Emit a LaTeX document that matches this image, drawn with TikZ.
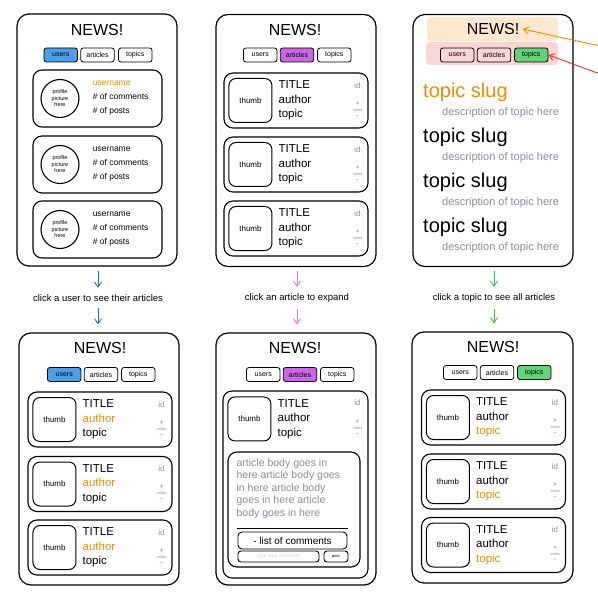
\documentclass[tikz,border=0pt]{standalone}
\usepackage{fontspec}
\setmainfont{Liberation Sans}
\usetikzlibrary{arrows.meta,positioning}
\definecolor{orng}{HTML}{F08C00}
\definecolor{tabblue}{HTML}{4A9FEA}
\definecolor{tabpurple}{HTML}{CC66E8}
\definecolor{tabgreen}{HTML}{62D476}
\definecolor{arblue}{HTML}{1971C2}
\definecolor{arpurple}{HTML}{DA77F2}
\definecolor{argreen}{HTML}{40C057}
\definecolor{vred}{HTML}{E03131}
\definecolor{idgray}{HTML}{868E96}
\definecolor{faint}{HTML}{CED4DA}
\definecolor{hlorange}{HTML}{FDE8CD}
\definecolor{hlpink}{HTML}{F9D5D5}
\newcommand{\fsz}[1]{\fontsize{#1}{#1}\selectfont}
\tikzset{flow/.style={->,line width=0.9pt}}
\begin{document}
\begin{tikzpicture}[x=1pt,y=-1pt,>={Straight Barb[length=5pt,width=7pt]},
  phone/.style={draw,line width=1.2pt,rounded corners=12pt,minimum width=160pt,minimum height=252pt,inner sep=0pt},
  head/.style={font=\fsz{16}},
  tab/.style={draw,line width=0.8pt,rounded corners=2.5pt,minimum width=33.5pt,minimum height=14pt,inner sep=0pt,font=\fsz{7}},
  card/.style={draw,line width=1.1pt,rounded corners=9pt,minimum width=144pt,minimum height=55pt,inner sep=0pt},
  thumb/.style={draw,line width=1pt,rounded corners=7pt,minimum width=43pt,minimum height=44pt,inner sep=0pt,font=\fsz{8}},
  pic/.style={draw,line width=1.1pt,circle,minimum size=38pt,inner sep=0pt,align=center,font=\fontsize{5.5}{6.5}\selectfont},
  info/.style={align=left,inner sep=0pt,font=\fontsize{11.5}{14.5}\selectfont},
  idtxt/.style={inner sep=0pt,text=idgray,font=\fsz{8}},
  votes/.style={inner sep=0pt,align=center,font=\fontsize{4}{6}\selectfont},
  slug/.style={anchor=west,inner sep=0pt,font=\fsz{20}},
  desc/.style={anchor=west,inner sep=0pt,text=idgray,font=\fsz{11}},
  caption/.style={inner xsep=2pt,inner ysep=6.5pt,font=\fsz{9.5}},
  box/.style={draw,line width=0.9pt,inner sep=0pt}]
\useasboundingbox (0,0) rectangle (597,601);

% users list
\node[phone] (p1) at (97,140) {};
\node[head] (n1) at (97,30) {NEWS!};
\node[tab] (a1) at (97.5,55) {articles};
\node[tab,fill=tabblue,left=2.5pt of a1] (u1) {users};
\node[tab,right=3.5pt of a1] (tp1) {topics};
\foreach \i/\y/\c in {1/98.5/orng,2/164.5/black,3/229.5/black}{
  \node[card,minimum width=129pt,minimum height=57pt] (uc\i) at (97.5,\y) {};
  \node[pic,right=8pt of uc\i.west] (pp\i) {profile\\picture\\here};
  \node[info,font=\fontsize{8.5}{14}\selectfont,right=13pt of pp\i] (ui\i) {{\color{\c}username}\\\# of comments\\\# of posts};
}

% articles list
\node[phone] (p2) at (296,140.5) {};
\node[head] (n2) at (295,30) {NEWS!};
\node[tab,fill=tabpurple] (a2) at (297,55) {articles};
\node[tab,left=2.5pt of a2] (u2) {users};
\node[tab,right=3pt of a2] (tp2) {topics};

% topics list
\node[phone] (p3) at (493,140.5) {};
\node[fill=hlorange,rounded corners=4pt,minimum width=131pt,minimum height=24pt] (h1) at (492.5,29) {};
\node[fill=hlpink,rounded corners=4pt,minimum width=132pt,minimum height=23pt] (h2) at (492,53.5) {};
\node[head] (n3) at (493,29) {NEWS!};
\node[tab] (a3) at (494,55) {articles};
\node[tab,left=2.5pt of a3] (u3) {users};
\node[tab,fill=tabgreen,right=3pt of a3] (tp3) {topics};
\foreach \i/\y/\c in {1/92/orng,2/137/black,3/182/black,4/227/black}{
  \node[slug,text=\c] (s\i) at (423,\y) {topic slug};
  \node[desc] (d\i) at (442,\y+21) {description of topic here};
}
\coordinate (oe) at (600,46);
\coordinate (re) at (600,74);
\draw[flow,orng] (oe) -- (n3.east);
\draw[flow,vred] (re) -- (tp3.east);

% captions
\node[caption] (k1) at (98,298) {click a user to see their articles};
\node[caption] (k2) at (297,298) {click an article to expand};
\node[caption] (k3) at (494,298) {click a topic to see all articles};

% user's articles
\node[phone] (p4) at (99,459) {};
\node[head] (n4) at (100,348) {NEWS!};
\node[tab] (a4) at (101,374.5) {articles};
\node[tab,fill=tabblue,left=2.5pt of a4] (u4) {users};
\node[tab,right=3pt of a4] (tp4) {topics};

% expanded article
\node[phone] (p5) at (296,459) {};
\node[head] (n5) at (295,348) {NEWS!};
\node[tab,fill=tabpurple] (a5) at (300,374.5) {articles};
\node[tab,left=2.5pt of a5] (u5) {users};
\node[tab,right=3pt of a5] (tp5) {topics};
\node[card,minimum width=145pt,minimum height=187pt] (c51) at (295.5,484.5) {};
\node[thumb,below right=6pt and 5pt of c51.north west] (th51) {thumb};
\node[info,right=6pt of th51] (in51) {TITLE\\author\\topic};
\node[idtxt] (id51) at ([xshift=-11pt,yshift=-12pt]c51.north east) {id};
\node[votes] (vt51) at ([xshift=-11pt,yshift=-37pt]c51.north east) {{\fsz{6}\color{vred}+}\\{\color{idgray}votes}\\{\fsz{6}\color{argreen}--}};
\node[draw,line width=1.1pt,rounded corners=9pt,minimum width=132pt,minimum height=115pt] (bd5) at (294,509.5) {};
\node[align=left,inner sep=0pt,text=idgray,font=\fontsize{10.5}{12.5}\selectfont,below right=7pt and 9pt of bd5.north west] (tx5) {article body goes in\\here article body goes\\in here article body\\goes in here article\\body goes in here};
\coordinate (dl) at (237,528);
\coordinate (dr) at (348,528);
\draw[line width=1pt] (dl) -- (dr);
\node[box,rounded corners=4pt,minimum width=109pt,minimum height=17pt,font=\fsz{10}] (cm5) at (292.5,540.5) {- list of comments};
\node[box,rounded corners=3pt,minimum width=81pt,minimum height=11pt,font=\fsz{5},text=faint] (ty5) at (278.5,556.5) {type your comment};
\node[box,rounded corners=3pt,minimum width=24pt,minimum height=11pt,font=\fsz{4}] (po5) at (336,556.5) {post};

% topic's articles
\node[phone,minimum width=161pt,minimum height=251pt] (p6) at (492.5,457.5) {};
\node[head] (n6) at (493,347) {NEWS!};
\node[tab] (a6) at (497,372.5) {articles};
\node[tab,left=2.5pt of a6] (u6) {users};
\node[tab,fill=tabgreen,right=3pt of a6] (tp6) {topics};

% article cards
\foreach \p/\x/\ya/\yb/\yc/\ca/\cb in {2/296/100.5/164.5/228.5/black/black,4/100/419.5/484/547.5/orng/black,6/493.5/417.5/481.5/545/black/orng}{
  \foreach \i/\y in {1/\ya,2/\yb,3/\yc}{
    \node[card] (c\p\i) at (\x,\y) {};
    \node[thumb,right=5pt of c\p\i.west] (th\p\i) {thumb};
    \node[info,right=6pt of th\p\i] (in\p\i) {TITLE\\{\color{\ca}author}\\{\color{\cb}topic}};
    \node[idtxt] (id\p\i) at ([xshift=-11pt,yshift=15pt]c\p\i.east) {id};
    \node[votes] (vt\p\i) at ([xshift=-11pt,yshift=-9pt]c\p\i.east) {{\fsz{6}\color{vred}+}\\{\color{idgray}votes}\\{\fsz{6}\color{argreen}--}};
  }
}

% flow
\draw[flow,arblue,shorten <=4pt] (k1 |- p1.south) -- (k1);
\draw[flow,arblue,shorten >=8pt] (k1) -- (k1 |- p4.north);
\draw[flow,arpurple,shorten <=4pt] (k2 |- p2.south) -- (k2);
\draw[flow,arpurple,shorten >=8pt] (k2) -- (k2 |- p5.north);
\draw[flow,argreen,shorten <=4pt] (k3 |- p3.south) -- (k3);
\draw[flow,argreen,shorten >=8pt] (k3) -- (k3 |- p6.north);
\end{tikzpicture}
\end{document}
